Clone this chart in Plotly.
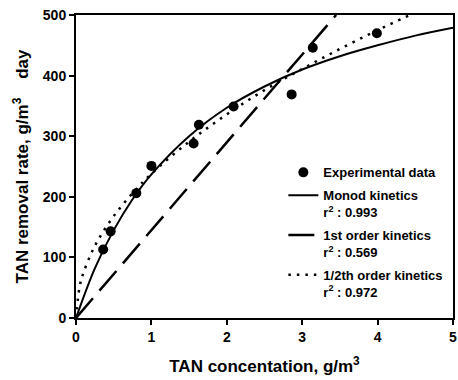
import plotly.graph_objects as go

# Experimental data
exp_x = [0.36, 0.46, 0.80, 1.00, 1.56, 1.63, 2.09, 2.86, 3.14, 3.99]
exp_y = [113, 143, 206, 251, 288, 319, 349, 369, 446, 470]

# Monod kinetics curve
monod_x = [0, 0.25, 0.5, 0.75, 1.0, 1.5, 2.0, 2.5, 3.0, 3.5, 4.0, 4.5, 5.0]
monod_y = [0, 82, 145, 196, 237, 300, 347, 382, 410, 432, 450, 466, 479]

# 1st order kinetics line
first_x = [0, 1.0, 2.0, 3.0, 3.45]
first_y = [0, 145, 290, 435, 500]

# 1/2th order kinetics curve
half_x = [0, 0.05, 0.1, 0.2, 0.3, 0.5, 0.75, 1.0, 1.5, 2.0, 2.5, 3.0, 3.5, 4.0, 4.43]
half_y = [0, 53, 75, 106, 130, 168, 206, 238, 291, 336, 376, 411, 444, 475, 500]

FONT = "Liberation Sans, Arial, sans-serif"

fig = go.Figure()
fig.add_trace(go.Scatter(x=exp_x, y=exp_y, mode="markers", legendgroup="a",
                         marker=dict(color="black", size=10),
                         name="Experimental data"))
fig.add_trace(go.Scatter(x=monod_x, y=monod_y, mode="lines", line_shape="spline",
                         legendgroup="b",
                         line=dict(color="black", width=2),
                         name="Monod kinetics<br>r<sup>2</sup> : 0.993"))
fig.add_trace(go.Scatter(x=first_x, y=first_y, mode="lines", legendgroup="c",
                         line=dict(color="black", width=2.5, dash="26px,10px"),
                         name="1st order kinetics<br>r<sup>2</sup> : 0.569"))
fig.add_trace(go.Scatter(x=half_x, y=half_y, mode="lines", line_shape="spline",
                         legendgroup="d",
                         line=dict(color="black", width=2.5, dash="2.5px,6px"),
                         name="1/2th order kinetics<br>r<sup>2</sup> : 0.972"))

fig.update_layout(
    width=458, height=380,
    margin=dict(l=76, r=5, t=15, b=62, autoexpand=False),
    paper_bgcolor="white", plot_bgcolor="white",
    font=dict(family=FONT, color="black", size=12, weight="bold"),
    showlegend=True, hovermode=False,
    legend=dict(x=0.55, y=0.53, xanchor="left", yanchor="top",
                bgcolor="rgba(0,0,0,0)", font=dict(size=13, family=FONT, weight="bold"),
                valign="top", itemwidth=30, tracegroupgap=3),
)
fig.update_xaxes(range=[0, 5], tickvals=[0, 1, 2, 3, 4, 5], automargin=False,
                 showgrid=False, zeroline=False,
                 showline=True, linecolor="black", linewidth=2, mirror=True,
                 ticks="outside", ticklen=5, tickwidth=2, tickcolor="black",
                 tickfont=dict(size=14, weight="bold", family=FONT),
                 title=dict(text="TAN concentation, g/m<sup>3</sup>",
                            font=dict(size=17, weight="bold", family=FONT), standoff=16))
fig.update_yaxes(range=[0, 500], tickvals=[0, 100, 200, 300, 400, 500], automargin=False,
                 showgrid=False, zeroline=False,
                 showline=True, linecolor="black", linewidth=2, mirror=True,
                 ticks="outside", ticklen=5, tickwidth=2, tickcolor="black",
                 tickfont=dict(size=14, weight="bold", family=FONT),
                 title=dict(text="TAN removal rate, g/m<sup>3</sup>    day",
                            font=dict(size=17, weight="bold", family=FONT), standoff=10))

fig.write_html("out.html", config={"displayModeBar": False},
               post_script="document.body.style.margin='0px';")
